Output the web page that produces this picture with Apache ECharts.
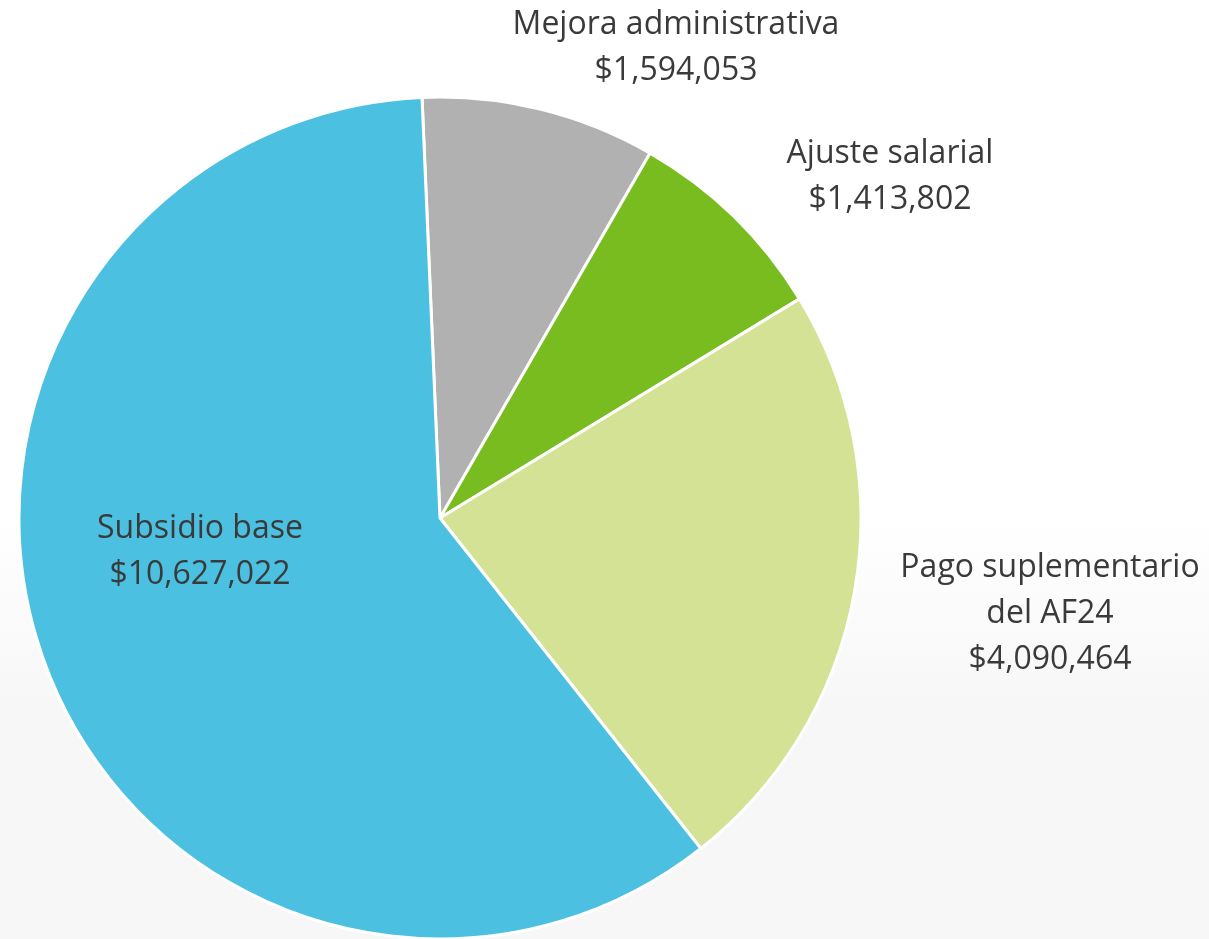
<!DOCTYPE html>
<html>
<head>
<meta charset="utf-8">
<script src="https://cdn.jsdelivr.net/npm/echarts@6/dist/echarts.min.js"></script>
<style>
html,body{margin:0;padding:0;width:1209px;height:939px;overflow:hidden;}
#chart{width:1209px;height:939px;}
</style>
</head>
<body>
<div id="chart"></div>
<script>
const categories = ['Mejora administrativa', 'Ajuste salarial', 'Pago suplementario\ndel AF24', 'Subsidio base'];
const values = [1594053, 1413802, 4090464, 10627022];
const colors = ['#B1B1B1', '#78BC20', '#D3E294', '#4BC0E0'];

// label anchor centres (layout only)
const labelAnchors = [[676, 48], [890, 177], [1050, 614], [200, 552]];

const chart = echarts.init(document.getElementById('chart'), null, {renderer: 'canvas'});
const fmt = v => '$' + v.toLocaleString('en-US');

chart.setOption({
  animation: false,
  backgroundColor: {
    type: 'linear', x: 0, y: 0, x2: 0, y2: 1,
    colorStops: [
      {offset: 0, color: '#ffffff'},
      {offset: 0.55, color: '#ffffff'},
      {offset: 0.75, color: '#f7f7f7'},
      {offset: 1, color: '#f7f7f7'}
    ]
  },
  series: [{
    type: 'pie',
    center: [440, 518],
    radius: 421,
    startAngle: 92.45,
    clockwise: true,
    avoidLabelOverlap: false,
    itemStyle: {borderColor: '#ffffff', borderWidth: 3},
    label: {
      show: true,
      position: 'outside',
      formatter: p => p.name + '\n' + fmt(p.value),
      fontFamily: '"Open Sans", sans-serif',
      fontSize: 32,
      lineHeight: 46,
      color: '#3a3a3a',
      align: 'center'
    },
    labelLine: {show: false},
    labelLayout: function (params) {
      const a = labelAnchors[params.dataIndex];
      return {x: a[0], y: a[1], align: 'center', verticalAlign: 'middle'};
    },
    emphasis: {disabled: true},
    data: categories.map((c, i) => ({name: c, value: values[i], itemStyle: {color: colors[i]}}))
  }]
});
</script>
</body>
</html>
